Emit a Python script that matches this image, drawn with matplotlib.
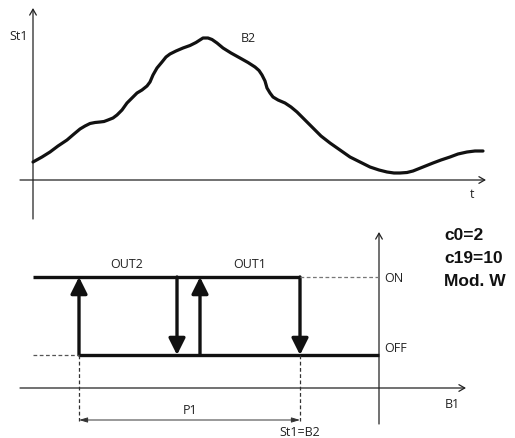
import matplotlib
matplotlib.use('Agg')
import matplotlib.pyplot as plt
from matplotlib.patches import FancyArrowPatch

# courbe St1 (B2), coordonnees en pixels
curve_x = [33, 42, 50, 58, 67, 74, 80, 85, 90, 95, 100, 104, 108, 113, 117, 122, 127, 132,
           137, 142, 147, 150, 153, 157, 162, 166, 170, 176, 183, 190, 196, 203, 208, 212,
           217, 223, 231, 240, 248, 255, 259, 262, 265, 267, 270, 273, 278, 285, 291, 297,
           305, 313, 321, 330, 340, 350, 360, 370, 379, 387, 394, 400, 407, 413, 423, 433,
           441, 450, 458, 467, 475, 483]
curve_y = [162, 157, 152, 146, 140, 134, 129, 126, 123.5, 122.5, 122, 121.5, 120, 118, 115, 110,
           103, 98, 93, 90, 86, 82, 75, 68, 62, 57, 54, 51, 48, 45.5, 42.5, 38, 38, 39.5,
           43, 48, 53, 58, 62.5, 67, 70.5, 75, 81, 88, 93, 97, 100, 103, 107, 112,
           120, 128, 136, 143, 150, 157, 162, 167, 170, 172, 173, 173, 172.5, 171, 167, 163,
           160, 157, 154, 152, 151, 151]

# hysteresis
y_on = 277
y_off = 355
x_start = 33
x_switch = [79, 177, 200, 300]   # St1-P1 ... St1=B2
x_axis2 = 379
arrow_dir = ['up', 'down', 'up', 'down']

params = ['c0=2', 'c19=10', 'Mod. W']

fig = plt.figure(figsize=(5.15, 4.38), dpi=100)
ax = fig.add_axes([0, 0, 1, 1])
ax.set_xlim(0, 515)
ax.set_ylim(438, 0)
ax.axis('off')

small = dict(fontsize=9, family=['Open Sans', 'DejaVu Sans'], color='#222222')

def axis_arrow(x0, y0, x1, y1):
    a = FancyArrowPatch((x0, y0), (x1, y1), arrowstyle='->,head_length=0.35,head_width=0.2',
                        mutation_scale=12, lw=0.9, color='#222222', shrinkA=0, shrinkB=0)
    ax.add_patch(a)

# --- graphe du haut
axis_arrow(33, 219, 33, 8)
axis_arrow(20, 180, 486, 180)
ax.plot(curve_x, curve_y, color='#111111', lw=2.3, solid_capstyle='round', solid_joinstyle='round')
ax.text(9, 37, 'St1', ha='left', va='center', **small)
ax.text(248, 38, 'B2', ha='center', va='center', **small)
ax.text(472, 195, 't', ha='center', va='center', **small)

# --- graphe du bas
axis_arrow(x_axis2, 424, x_axis2, 232)
axis_arrow(20, 388, 466, 388)

ax.plot([x_start, x_switch[3]], [y_on, y_on], color='#111111', lw=2.4, solid_capstyle='butt')
ax.plot([x_switch[0], x_axis2], [y_off, y_off], color='#111111', lw=2.4, solid_capstyle='butt')
ax.plot([x_switch[3], x_axis2], [y_on, y_on], color='#777777', lw=0.9, ls=(0, (3, 2)))
ax.plot([x_start, x_switch[0]], [y_off, y_off], color='#555555', lw=0.9, ls=(0, (3, 2)))
for xs in [x_switch[0], x_switch[3]]:
    ax.plot([xs, xs], [y_off, 421], color='#333333', lw=0.9, ls=(0, (3, 2)))

for xs, d in zip(x_switch, arrow_dir):
    if d == 'up':
        p0, p1 = (xs, y_off), (xs, y_on)
    else:
        p0, p1 = (xs, y_on), (xs, y_off)
    a = FancyArrowPatch(p0, p1, arrowstyle='-|>,head_length=0.5,head_width=0.25',
                        mutation_scale=20, lw=2.4, color='#111111', shrinkA=0, shrinkB=0)
    ax.add_patch(a)

p1a = FancyArrowPatch((x_switch[0], 420), (x_switch[3], 420),
                      arrowstyle='<|-|>,head_length=0.5,head_width=0.15', mutation_scale=10,
                      lw=0.7, color='#333333', shrinkA=0, shrinkB=0)
ax.add_patch(p1a)

ax.text(127, 264, 'OUT2', ha='center', va='center', **small)
ax.text(250, 264, 'OUT1', ha='center', va='center', **small)
ax.text(384, 278, 'ON', ha='left', va='center', **small)
ax.text(384, 348, 'OFF', ha='left', va='center', **small)
ax.text(452, 405, 'B1', ha='center', va='center', **small)
ax.text(190, 411, 'P1', ha='center', va='center', **small)
ax.text(x_switch[3], 433, 'St1=B2', ha='center', va='center', **small)

for i, s in enumerate(params):
    ax.text(444, 235 + i * 23.5, s, ha='left', va='center', fontsize=12.5, fontweight='bold',
            family=['Liberation Sans Narrow', 'Liberation Sans', 'DejaVu Sans'], color='#111111')

fig.savefig('out.png', dpi=100)
